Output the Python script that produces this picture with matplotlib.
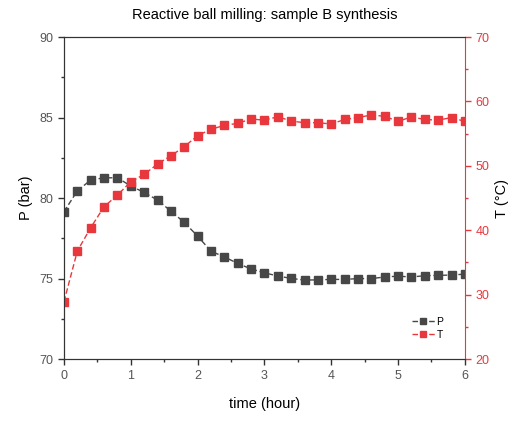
import matplotlib
matplotlib.use("Agg")
import matplotlib.pyplot as plt
from matplotlib.ticker import MultipleLocator

plt.rcParams['font.family'] = ['Liberation Sans', 'DejaVu Sans']

# sampling times (hour)
time_h = [0.0, 0.2, 0.4, 0.6, 0.8, 1.0, 1.2, 1.4, 1.6, 1.8, 2.0, 2.2, 2.4, 2.6, 2.8, 3.0,
          3.2, 3.4, 3.6, 3.8, 4.0, 4.2, 4.4, 4.6, 4.8, 5.0, 5.2, 5.4, 5.6, 5.8, 6.0]
# vial pressure (bar)
pressure = [79.15, 80.45, 81.12, 81.26, 81.26, 80.75, 80.35, 79.88, 79.19, 78.49, 77.64,
            76.7, 76.35, 75.94, 75.6, 75.36, 75.16, 75.01, 74.91, 74.92, 74.95, 74.95,
            75.0, 75.0, 75.1, 75.15, 75.1, 75.18, 75.2, 75.22, 75.28]
# vial temperature (°C)
temperature = [28.9, 36.77, 40.4, 43.65, 45.47, 47.53, 48.68, 50.28, 51.57, 52.97, 54.7,
               55.67, 56.29, 56.6, 57.27, 57.1, 57.63, 56.96, 56.7, 56.7, 56.5, 57.2,
               57.5, 57.9, 57.7, 56.9, 57.6, 57.2, 57.1, 57.5, 56.9]

dark = '#474747'
red = '#e8383d'

fig = plt.figure(figsize=(5.2, 4.21), dpi=100)
ax = fig.add_axes([0.123, 0.147, 0.771, 0.765])
ax2 = ax.twinx()

lp, = ax.plot(time_h, pressure, color=dark, ls=(0, (4, 2)), lw=1.0,
              marker='s', ms=5.2, label='P')
lt, = ax2.plot(time_h, temperature, color=red, ls=(0, (4, 2)), lw=1.0,
               marker='s', ms=5.2, label='T')

ax.set_xlim(0, 6)
ax.set_ylim(70, 90)
ax2.set_ylim(20, 70)

ax.xaxis.set_major_locator(MultipleLocator(1))
ax.xaxis.set_minor_locator(MultipleLocator(0.5))
ax.yaxis.set_major_locator(MultipleLocator(5))
ax.yaxis.set_minor_locator(MultipleLocator(2.5))
ax2.yaxis.set_major_locator(MultipleLocator(10))
ax2.yaxis.set_minor_locator(MultipleLocator(5))

ax.tick_params(which='major', direction='out', length=4, width=1, labelsize=9,
               labelcolor='#555555', color='#333333')
ax.tick_params(which='minor', direction='out', length=2.5, width=1, color='#333333')
ax2.tick_params(which='major', direction='out', length=4, width=1, labelsize=9,
                labelcolor=red, color=red)
ax2.tick_params(which='minor', direction='out', length=2.5, width=1, color=red)

for s in ['left', 'bottom', 'top']:
    ax.spines[s].set_color('#333333')
    ax2.spines[s].set_color('#333333')
ax2.spines['right'].set_color(red)
ax.spines['right'].set_visible(False)

ax.set_xlabel('time (hour)', fontsize=10.5, labelpad=11)
ax.set_ylabel('P (bar)', fontsize=10.5, labelpad=5)
ax2.set_ylabel('T (°C)', fontsize=10.5, labelpad=4)
ax.set_title('Reactive ball milling: sample B synthesis', fontsize=10.5, pad=13)

ax.legend(handles=[lp, lt], loc='lower right', bbox_to_anchor=(0.97, 0.03),
          frameon=False, fontsize=7.5, handlelength=2.2, handletextpad=0.2,
          labelspacing=0.3, markerscale=0.8)

fig.savefig('out.png', dpi=100)
